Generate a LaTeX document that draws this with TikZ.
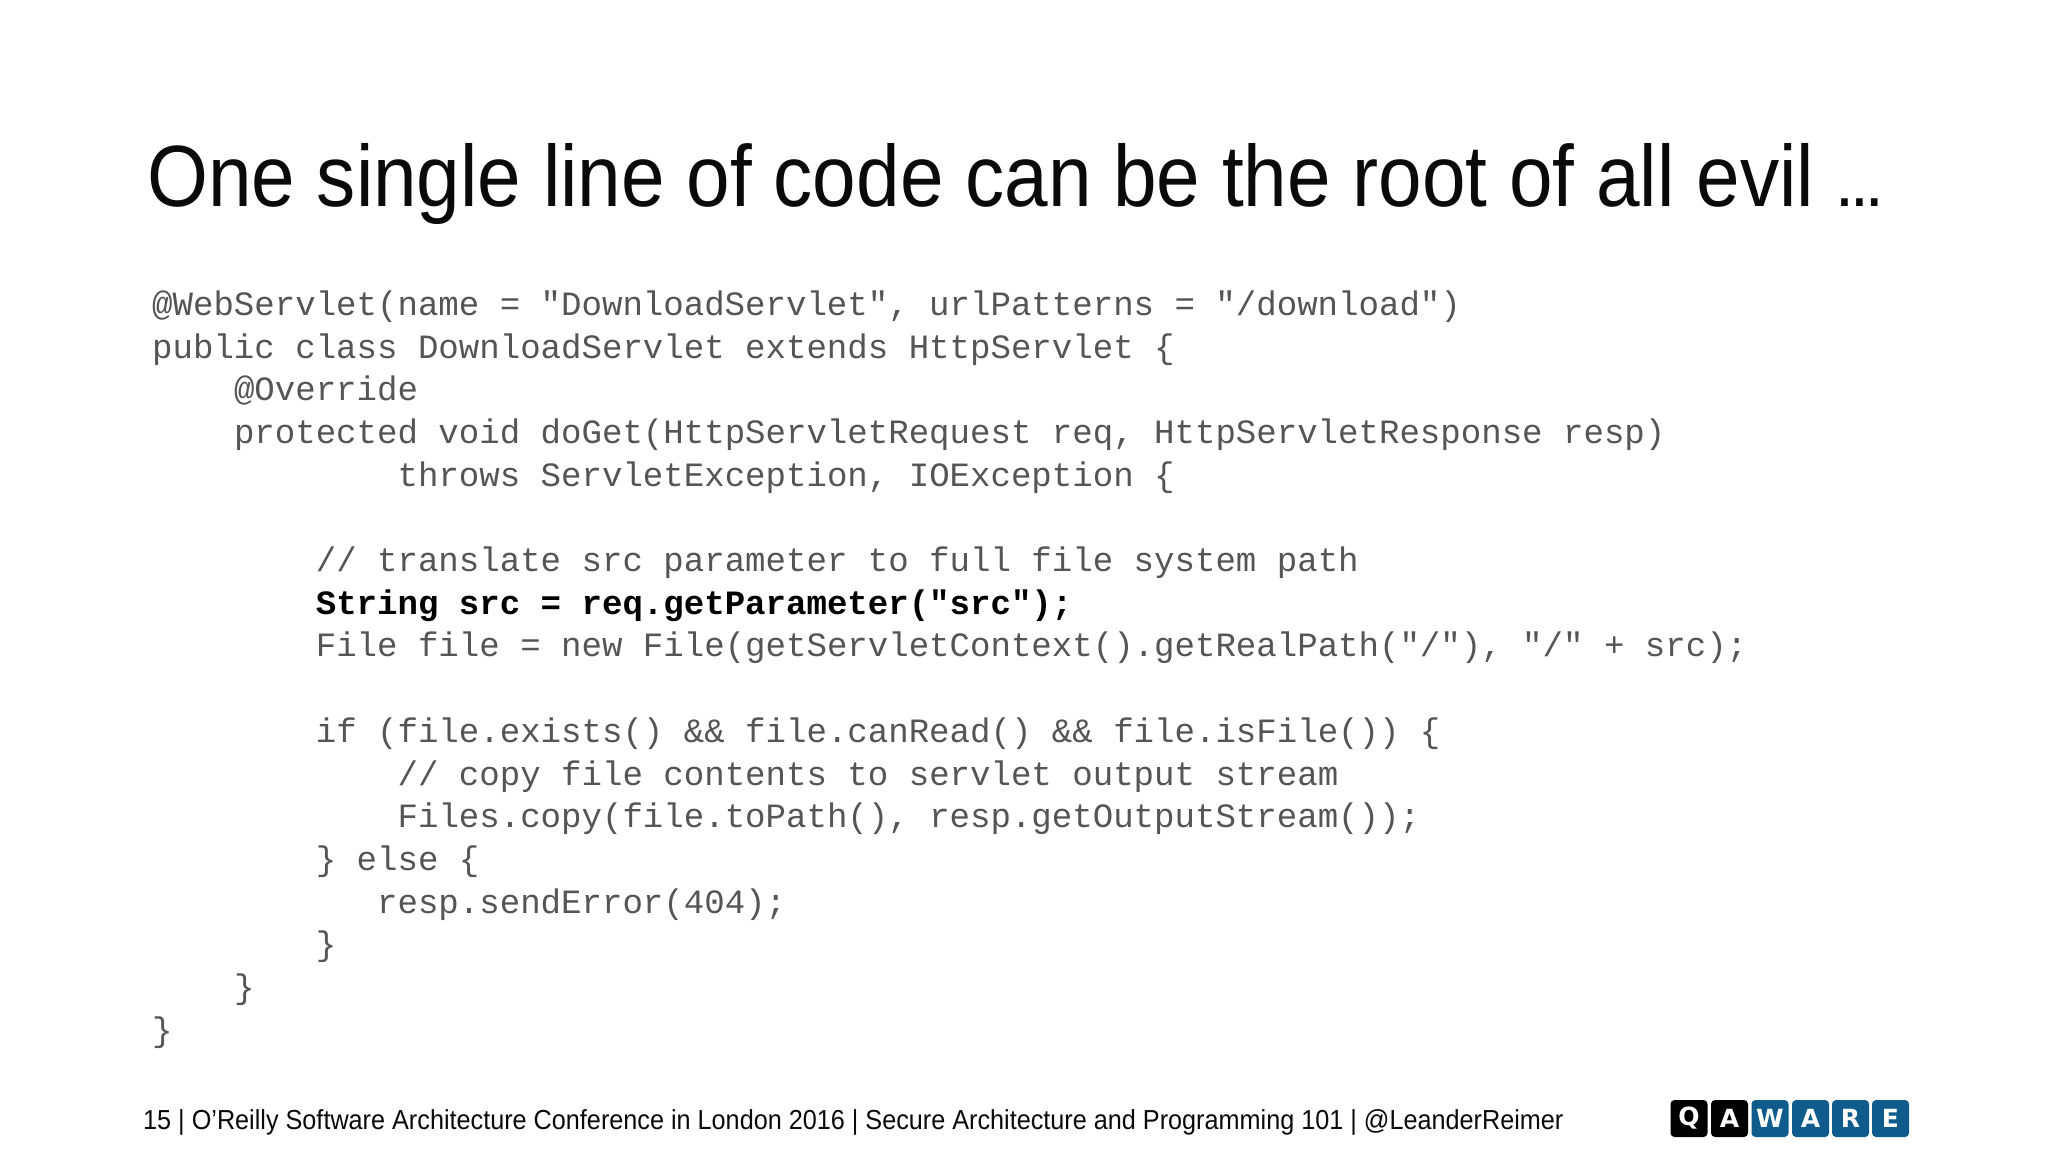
\documentclass[tikz,border=0pt]{standalone}
\usepackage{fontspec}
\setmainfont{Liberation Sans}
\newfontfamily\titlefont[FakeStretch=0.9]{Liberation Sans}
\newfontfamily\footfont[FakeStretch=0.917]{Liberation Sans}
\newfontfamily\codefont{Liberation Mono}
\newfontfamily\logofont{DejaVu Sans}
\definecolor{codegray}{HTML}{555555}
\definecolor{inkblack}{HTML}{0A0A0A}
\definecolor{logoblue}{HTML}{0F5C8C}
\tikzset{
  titletext/.style={anchor=base west,inner sep=0pt,text=inkblack,font=\titlefont\fontsize{87}{87}\selectfont},
  foottext/.style={anchor=base west,inner sep=0pt,text=inkblack,font=\footfont\fontsize{27.5}{27.5}\selectfont},
  codetext/.style={anchor=base west,inner sep=0pt,text=codegray,font=\codefont\fontsize{34.08}{34.08}\selectfont},
  codebold/.style={codetext,text=black,font=\codefont\bfseries\fontsize{34.08}{34.08}\selectfont},
  tile/.style={minimum width=37pt,minimum height=37pt,inner sep=0pt,rounded corners=4pt,text=white,font=\logofont\bfseries\fontsize{25}{25}\selectfont},
  tileblack/.style={tile,fill=black},
  tileblue/.style={tile,fill=logoblue},
}
\newcommand{\codeline}[4][codetext]{%
  \node[#1] at ({152+#2*20.45},{315.4+#3*42.69}) {#4};}
\begin{document}
\begin{tikzpicture}[x=1pt,y=-1pt]
\useasboundingbox (0,0) rectangle (2048,1152);
\node[titletext] (title) at (147,206) {One single line of code can be the root of all evil {\fontsize{52}{52}\selectfont\bfseries …}};
\codeline{0}{0}{@WebServlet(name = "DownloadServlet", urlPatterns = "/download")}
\codeline{0}{1}{public class DownloadServlet extends HttpServlet \{}
\codeline{4}{2}{@Override}
\codeline{4}{3}{protected void doGet(HttpServletRequest req, HttpServletResponse resp)}
\codeline{12}{4}{throws ServletException, IOException \{}
\codeline{8}{6}{// translate src parameter to full file system path}
\codeline[codebold]{8}{7}{String src = req.getParameter("src");}
\codeline{8}{8}{File file = new File(getServletContext().getRealPath("/"), "/" + src);}
\codeline{8}{10}{if (file.exists() \&\& file.canRead() \&\& file.isFile()) \{}
\codeline{12}{11}{// copy file contents to servlet output stream}
\codeline{12}{12}{Files.copy(file.toPath(), resp.getOutputStream());}
\codeline{8}{13}{\} else \{}
\codeline{11}{14}{resp.sendError(404);}
\codeline{8}{15}{\}}
\codeline{4}{16}{\}}
\codeline{0}{17}{\}}
\node[foottext] (footer) at (143,1129) {15 | O’Reilly Software Architecture Conference in London 2016 | Secure Architecture and Programming 101 | @LeanderReimer};
\node[tileblack] (q) at (1689,1118.5) {Q};
\node[tileblack] (a) at (1729.5,1118.5) {A};
\node[tileblue] (w) at (1770,1118.5) {W};
\node[tileblue] (a2) at (1810.5,1118.5) {A};
\node[tileblue] (r) at (1850.5,1118.5) {R};
\node[tileblue] (e) at (1890.5,1118.5) {E};
\end{tikzpicture}
\end{document}
